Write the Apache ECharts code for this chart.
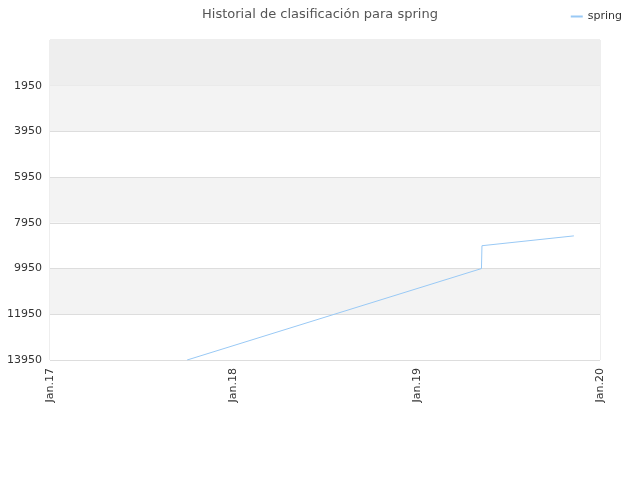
<!DOCTYPE html>
<html>
<head>
<meta charset="utf-8">
<script src="https://cdn.jsdelivr.net/npm/echarts@6/dist/echarts.min.js"></script>
<style>
  html, body { margin: 0; padding: 0; background: #fff; }
  #chart { width: 640px; height: 480px; }
</style>
</head>
<body>
<div id="chart"></div>
<script>
// datos
var dates = ['2017-10-01', '2019-05-10', '2019-05-11', '2019-11-10'];
var ranks = [13950, 9950, 8950, 8520];
var yTicks = { min: -50, max: 13950, step: 2000 };

var chart = echarts.init(document.getElementById('chart'));
var points = dates.map(function (d, i) { return [d, ranks[i]]; });

chart.setOption({
  title: {
    text: 'Historial de clasificación para spring',
    left: 'center',
    top: 3,
    textStyle: { fontSize: 13, fontWeight: 'normal', color: '#555', fontFamily: 'DejaVu Sans' }
  },
  legend: {
    right: 13,
    top: 6,
    itemWidth: 12,
    itemHeight: 2,
    textStyle: { fontSize: 11, color: '#333', fontFamily: 'DejaVu Sans' },
    data: [{ name: 'spring', icon: 'rect' }]
  },
  grid: {
    left: 50, right: 40, top: 40, bottom: 120,
    show: true, borderColor: '#ddd', borderWidth: 1
  },
  xAxis: {
    type: 'time',
    min: '2017-01-01',
    max: '2020-01-01',
    minInterval: 365 * 24 * 3600 * 1000,
    axisLine: { show: false },
    axisTick: { show: false },
    splitLine: { show: false },
    axisLabel: {
      rotate: 90,
      showMaxLabel: true,
      showMinLabel: true,
      fontSize: 11,
      color: '#333',
      fontFamily: 'DejaVu Sans',
      formatter: function (v) {
        var d = new Date(v);
        return 'Jan.' + String(d.getFullYear()).slice(2);
      }
    }
  },
  yAxis: {
    type: 'value',
    inverse: true,
    min: yTicks.min,
    max: yTicks.max,
    interval: yTicks.step,
    axisLine: { show: false },
    axisTick: { show: false },
    axisLabel: {
      showMinLabel: false,
      fontSize: 11,
      color: '#333',
      fontFamily: 'DejaVu Sans',
      formatter: function (v) { return String(v); }
    },
    splitLine: { lineStyle: { color: '#ddd' } },
    splitArea: { show: true, areaStyle: { color: ['#ffffff', '#f3f3f3'] } }
  },
  series: [{
    name: 'spring',
    type: 'line',
    data: points,
    showSymbol: false,
    symbol: 'none',
    lineStyle: { color: '#99c9f5', width: 1 },
    itemStyle: { color: '#99c9f5' },
    markArea: {
      silent: true,
      itemStyle: { color: '#eeeeee' },
      data: [[{ yAxis: yTicks.min }, { yAxis: yTicks.min + yTicks.step }]]
    }
  }]
});
</script>
</body>
</html>
